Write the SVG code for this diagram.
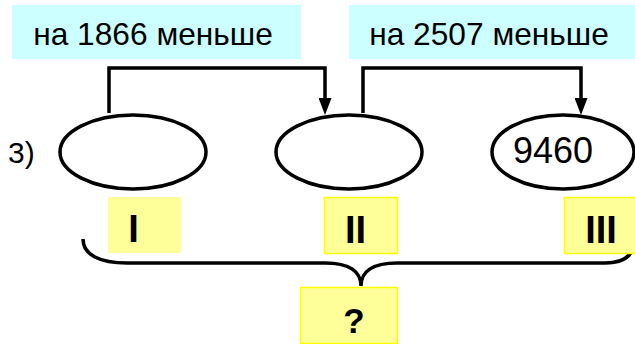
<svg xmlns="http://www.w3.org/2000/svg" width="635" height="344" viewBox="0 0 635 344">
<style>
.lbl{fill:#ccffff}
.tag{fill:#ffff99}
.tagb{fill:#ffff99;stroke:#ffff00;stroke-width:1.5}
.t{font-family:"Liberation Sans",Arial,sans-serif;fill:#000}
.ell{fill:#fff;stroke:#000;stroke-width:3.5}
.ln{fill:none;stroke:#000;stroke-width:3.5}
</style>
<defs>
<marker id="ah" markerUnits="userSpaceOnUse" viewBox="0 0 17 13" markerWidth="17" markerHeight="13" refX="0" refY="6.5" orient="auto">
<path d="M0,0 L17,6.5 L0,13 z" fill="#000"/>
</marker>
</defs>
<rect width="635" height="344" fill="#fff"/>
<g id="label1"><rect class="lbl" x="12" y="5" width="289" height="54"/><text class="t" x="153" y="45" font-size="31.7" text-anchor="middle">на 1866 меньше</text></g>
<g id="label2"><rect class="lbl" x="349" y="5" width="286" height="54"/><text class="t" x="489" y="45" font-size="31.7" text-anchor="middle">на 2507 меньше</text></g>
<g id="connectors">
<path class="ln" d="M109,113 V68 H325 V98" marker-end="url(#ah)"/>
<path class="ln" d="M363,113 V68 H581 V98" marker-end="url(#ah)"/>
<path class="ln" d="M83,239 C83,255 100,263 127,263 L325,263 C350,263 361,272 361,286 C361,272 372,263 397,263 L605,263 C625,263 634,255 634,240"/>
</g>
<g id="num"><text class="t" x="8" y="163" font-size="30">3)</text></g>
<g id="e1"><ellipse class="ell" cx="133" cy="152" rx="73" ry="37"/></g>
<g id="e2"><ellipse class="ell" cx="349" cy="152" rx="73" ry="37"/></g>
<g id="e3"><ellipse class="ell" cx="563" cy="152" rx="71" ry="37"/><text class="t" x="553" y="163" font-size="36" text-anchor="middle">9460</text></g>
<g id="tag1"><rect class="tag" x="108" y="197" width="73" height="56"/><text class="t" x="133.5" y="242" font-size="38" font-weight="bold" text-anchor="middle">I</text></g>
<g id="tag2"><rect class="tagb" x="324.5" y="197.5" width="73" height="56"/><text class="t" x="355.5" y="243" font-size="38" font-weight="bold" text-anchor="middle">II</text></g>
<g id="tag3"><rect class="tagb" x="564.5" y="197.5" width="75" height="56"/><text class="t" x="601" y="243" font-size="38" font-weight="bold" text-anchor="middle">III</text></g>
<g id="tagq"><rect class="tagb" x="300.5" y="287.5" width="97" height="56"/><text class="t" x="354" y="333" font-size="35" font-weight="bold" text-anchor="middle">?</text></g>
</svg>
